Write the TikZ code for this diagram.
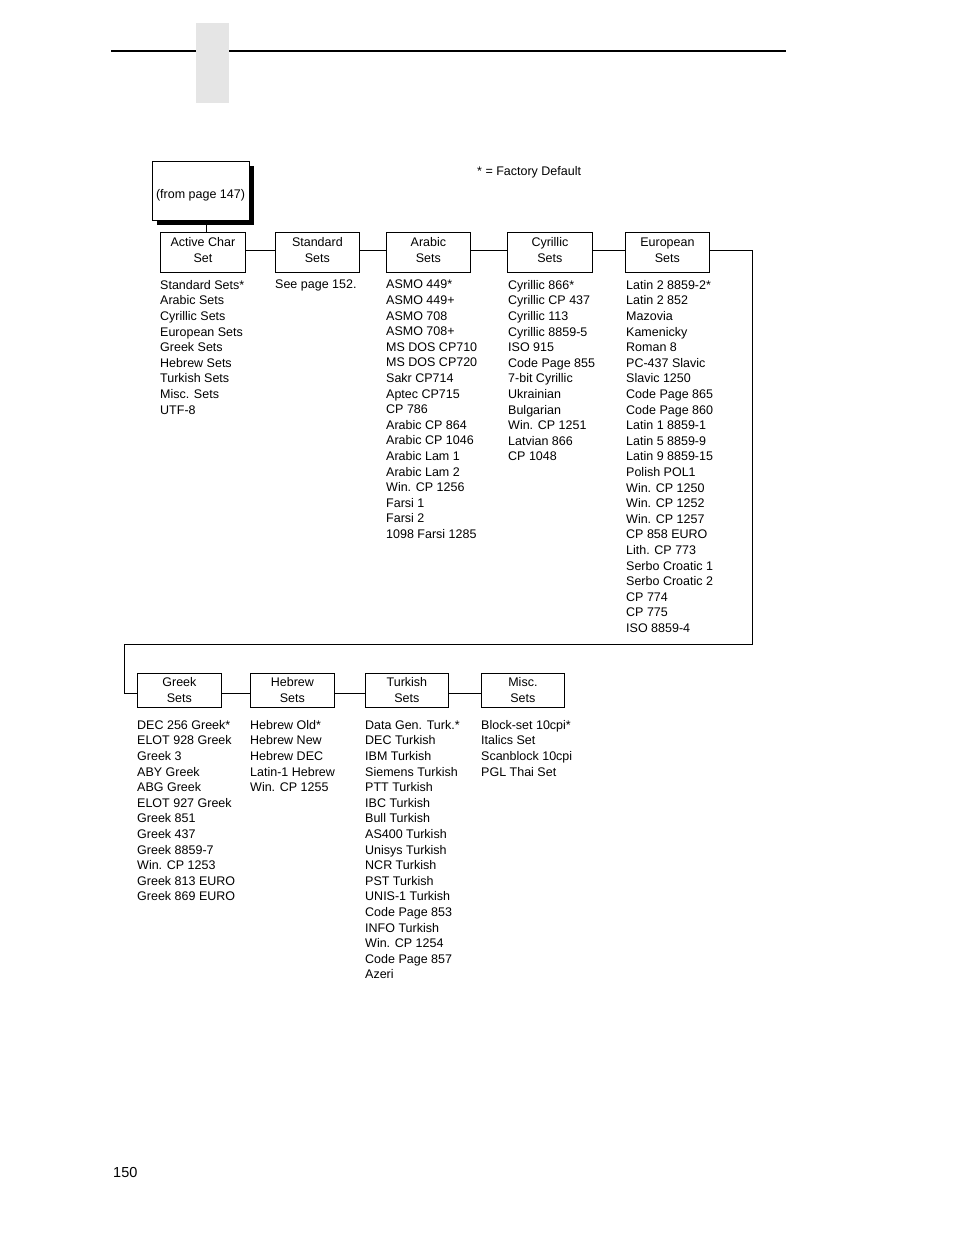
\documentclass[tikz,border=0pt]{standalone}
\usepackage{fontspec}
\setmainfont{Liberation Sans}
\begin{document}
\begin{tikzpicture}[x=1pt,y=-1pt,
  txt/.style={font=\fontsize{12.5}{15.6}\selectfont},
  box/.style={draw, line width=0.8pt, minimum width=85pt, minimum height=40pt, inner sep=0pt, anchor=north west, fill=white},
  btxt/.style={inner sep=0pt, align=center, font=\fontsize{12.5}{16}\selectfont},
  lst/.style={inner sep=0pt, align=left, anchor=north west, txt},
  conn/.style={line width=0.8pt}]
\useasboundingbox (0,0) rectangle (954,1235);
% header
\fill[black!10] (196,23) rectangle (229,103);
\draw[line width=2pt] (111,51) -- (196,51);
\draw[line width=2pt] (229,51) -- (786,51);
\node[font=\fontsize{14.5}{16}\selectfont, anchor=west, inner sep=0pt] (pg) at (113,1172) {150};
\node[txt, anchor=west, inner sep=0pt] (fd) at (477,172) {* = Factory Default};
% from box
\fill[black] (157,166) rectangle (254,225);
\node[draw, fill=white, line width=0.8pt, minimum width=97pt, minimum height=59pt, inner sep=0pt, anchor=north west] (from) at (152,161) {};
\node[txt, inner sep=0pt] (fromtxt) at (200.5,195.5) {(from page 147)};
% top row
\node[box] (active) at (160,232) {};
\node[box, minimum width=84pt] (std) at (275,232) {};
\node[box, minimum width=84pt] (arab) at (386,232) {};
\node[box] (cyr) at (507,232) {};
\node[box, minimum width=84pt] (eur) at (625,232) {};
\node[btxt] (activet) at ([yshift=2pt]active.center) {Active Char\\Set};
\node[btxt] (stdt) at ([yshift=2pt]std.center) {Standard\\Sets};
\node[btxt] (arabt) at ([yshift=2pt]arab.center) {Arabic\\Sets};
\node[btxt] (cyrt) at ([yshift=2pt]cyr.center) {Cyrillic\\Sets};
\node[btxt] (eurt) at ([yshift=2pt]eur.center) {European\\Sets};
\draw[conn] ([xshift=5pt]from.south) -- ([xshift=5pt]from.south |- active.north);
\draw[conn] (active.east |- 0,250) -- (std.west |- 0,250);
\draw[conn] (std.east |- 0,250) -- (arab.west |- 0,250);
\draw[conn] (arab.east |- 0,250) -- (cyr.west |- 0,250);
\draw[conn] (cyr.east |- 0,250) -- (eur.west |- 0,250);
% bottom row
\node[box, minimum width=84pt, minimum height=34pt] (greek) at (137,673) {};
\node[box, minimum width=84pt, minimum height=34pt] (heb) at (250,673) {};
\node[box, minimum width=83pt, minimum height=34pt] (turk) at (365,673) {};
\node[box, minimum width=83pt, minimum height=34pt] (misc) at (481,673) {};
\node[btxt] (greekt) at (greek.center) {Greek\\Sets};
\node[btxt] (hebt) at (heb.center) {Hebrew\\Sets};
\node[btxt] (turkt) at (turk.center) {Turkish\\Sets};
\node[btxt] (misct) at (misc.center) {Misc.\\Sets};
\draw[conn] (eur.east |- 0,250) -- (752,250) -- (752,644) -- (124,644) -- (124,693) -- (greek.west |- 0,693);
\draw[conn] (greek.east |- 0,693) -- (heb.west |- 0,693);
\draw[conn] (heb.east |- 0,693) -- (turk.west |- 0,693);
\draw[conn] (turk.east |- 0,693) -- (misc.west |- 0,693);
% lists top
\node[lst] (l1) at (160,280) {Standard Sets*\\Arabic Sets\\Cyrillic Sets\\European Sets\\Greek Sets\\Hebrew Sets\\Turkish Sets\\Misc. Sets\\UTF-8};
\node[lst] (l2) at (275,280) {See page 152.};
\node[lst] (l3) at (386,280) {ASMO 449*\\ASMO 449+\\ASMO 708\\ASMO 708+\\MS DOS CP710\\MS DOS CP720\\Sakr CP714\\Aptec CP715\\CP 786\\Arabic CP 864\\Arabic CP 1046\\Arabic Lam 1\\Arabic Lam 2\\Win. CP 1256\\Farsi 1\\Farsi 2\\1098 Farsi 1285};
\node[lst] (l4) at (508,280) {Cyrillic 866*\\Cyrillic CP 437\\Cyrillic 113\\Cyrillic 8859-5\\ISO 915\\Code Page 855\\7-bit Cyrillic\\Ukrainian\\Bulgarian\\Win. CP 1251\\Latvian 866\\CP 1048};
\node[lst] (l5) at (626,280) {Latin 2 8859-2*\\Latin 2 852\\Mazovia\\Kamenicky\\Roman 8\\PC-437 Slavic\\Slavic 1250\\Code Page 865\\Code Page 860\\Latin 1 8859-1\\Latin 5 8859-9\\Latin 9 8859-15\\Polish POL1\\Win. CP 1250\\Win. CP 1252\\Win. CP 1257\\CP 858 EURO\\Lith. CP 773\\Serbo Croatic 1\\Serbo Croatic 2\\CP 774\\CP 775\\ISO 8859-4};
% lists bottom
\node[lst] (b1) at (137,720) {DEC 256 Greek*\\ELOT 928 Greek\\Greek 3\\ABY Greek\\ABG Greek\\ELOT 927 Greek\\Greek 851\\Greek 437\\Greek 8859-7\\Win. CP 1253\\Greek 813 EURO\\Greek 869 EURO};
\node[lst] (b2) at (250,720) {Hebrew Old*\\Hebrew New\\Hebrew DEC\\Latin-1 Hebrew\\Win. CP 1255};
\node[lst] (b3) at (365,720) {Data Gen. Turk.*\\DEC Turkish\\IBM Turkish\\Siemens Turkish\\PTT Turkish\\IBC Turkish\\Bull Turkish\\AS400 Turkish\\Unisys Turkish\\NCR Turkish\\PST Turkish\\UNIS-1 Turkish\\Code Page 853\\INFO Turkish\\Win. CP 1254\\Code Page 857\\Azeri};
\node[lst] (b4) at (481,720) {Block-set 10cpi*\\Italics Set\\Scanblock 10cpi\\PGL Thai Set};
\end{tikzpicture}
\end{document}
